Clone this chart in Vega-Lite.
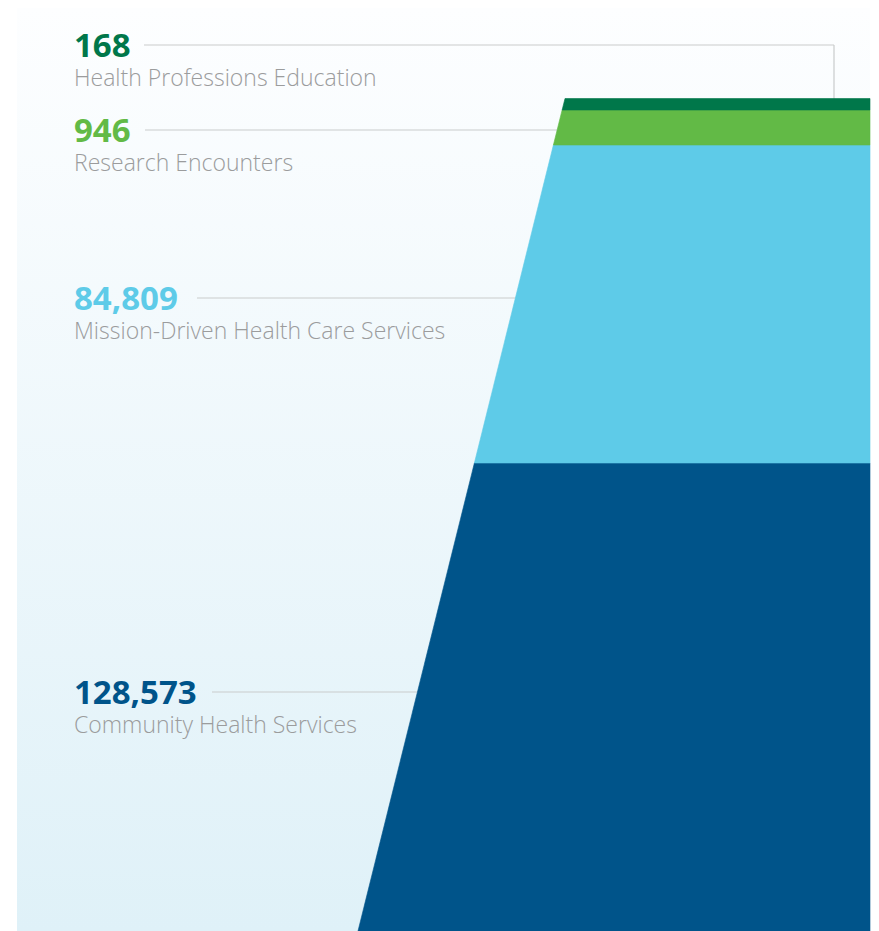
{
  "$schema": "https://vega.github.io/schema/vega-lite/v6.json",
  "width": 853,
  "height": 923,
  "autosize": {"type": "none"},
  "padding": {"left": 17, "top": 8, "right": 9, "bottom": 0},
  "background": "#ffffff",
  "config": {"view": {"stroke": null}},
  "data": {
    "values": [
      {"category": "Community Health Services", "value": 128573},
      {"category": "Mission-Driven Health Care Services", "value": 84809},
      {"category": "Research Encounters", "value": 946},
      {"category": "Health Professions Education", "value": 168}
    ]
  },
  "resolve": {"scale": {"x": "independent", "y": "independent"}},
  "layer": [
    {
      "data": {"values": [{"panel": "background"}]},
      "mark": {
        "type": "rect",
        "fill": {
          "gradient": "linear",
          "x1": 0, "y1": 0, "x2": 0, "y2": 1,
          "stops": [
            {"offset": 0, "color": "#fdfeff"},
            {"offset": 1, "color": "#dff1f8"}
          ]
        }
      },
      "encoding": {
        "x": {"value": 0},
        "x2": {"value": "width"},
        "y": {"value": 0},
        "y2": {"value": "height"}
      }
    },
    {
      "encoding": {
        "y": {
          "field": "value",
          "type": "quantitative",
          "scale": {"domain": [168, 946, 84809, 128573], "range": [37, 122, 290, 684], "nice": false, "zero": false},
          "axis": null
        }
      },
      "layer": [
        {
          "mark": {"type": "rule", "stroke": "#c9cbcc", "strokeWidth": 1.2},
          "encoding": {
            "x": {
              "field": "value",
              "type": "quantitative",
              "scale": {"domain": [168, 946, 84809, 128573], "range": [127, 128, 180, 195], "nice": false, "zero": false},
              "axis": null
            },
            "x2": {"value": 817}
          }
        },
        {
          "transform": [{"filter": "datum.value === 168"}],
          "mark": {"type": "rule", "stroke": "#c9cbcc", "strokeWidth": 1.2},
          "encoding": {
            "x": {"value": 817},
            "y2": {"value": 91}
          }
        },
        {
          "mark": {"type": "text", "align": "left", "baseline": "alphabetic", "dy": 12, "font": "Open Sans", "fontSize": 33, "fontWeight": "bold"},
          "encoding": {
            "x": {"value": 57},
            "text": {"field": "value", "type": "quantitative", "format": ","},
            "color": {
              "field": "category",
              "type": "nominal",
              "scale": {
                "domain": ["Community Health Services", "Mission-Driven Health Care Services", "Research Encounters", "Health Professions Education"],
                "range": ["#00548a", "#5ecbe8", "#62ba46", "#00774a"]
              },
              "legend": null
            }
          }
        },
        {
          "mark": {"type": "text", "align": "left", "baseline": "alphabetic", "dy": 41, "font": "Open Sans", "fontSize": 23, "fontWeight": 300, "color": "#9b9c9d"},
          "encoding": {
            "x": {"value": 57},
            "text": {"field": "category", "type": "nominal"}
          }
        }
      ]
    },
    {
      "transform": [
        {"stack": "value", "groupby": [], "sort": [{"field": "value", "order": "descending"}], "as": ["start", "end"]},
        {"fold": ["start", "end"], "as": ["edge", "cum"]}
      ],
      "mark": {"type": "area", "orient": "horizontal", "strokeWidth": 0.6},
      "encoding": {
        "y": {
          "field": "cum",
          "type": "quantitative",
          "scale": {"domain": [0, 128573, 213382, 214328, 214496], "range": [923, 455, 137, 102, 90.5], "nice": false, "zero": false},
          "axis": null
        },
        "x": {
          "field": "cum",
          "type": "quantitative",
          "stack": null,
          "scale": {"domain": [0, 128573, 213382, 214328, 214496], "range": [341, 457.4, 536.4, 545.1, 548], "nice": false, "zero": false},
          "axis": null
        },
        "x2": {"value": "width"},
        "color": {
          "field": "category",
          "type": "nominal",
          "scale": {
            "domain": ["Community Health Services", "Mission-Driven Health Care Services", "Research Encounters", "Health Professions Education"],
            "range": ["#00548a", "#5ecbe8", "#62ba46", "#00774a"]
          },
          "legend": null
        },
        "stroke": {
          "field": "category",
          "type": "nominal",
          "scale": {
            "domain": ["Community Health Services", "Mission-Driven Health Care Services", "Research Encounters", "Health Professions Education"],
            "range": ["#00548a", "#5ecbe8", "#62ba46", "#00774a"]
          },
          "legend": null
        }
      }
    }
  ]
}
